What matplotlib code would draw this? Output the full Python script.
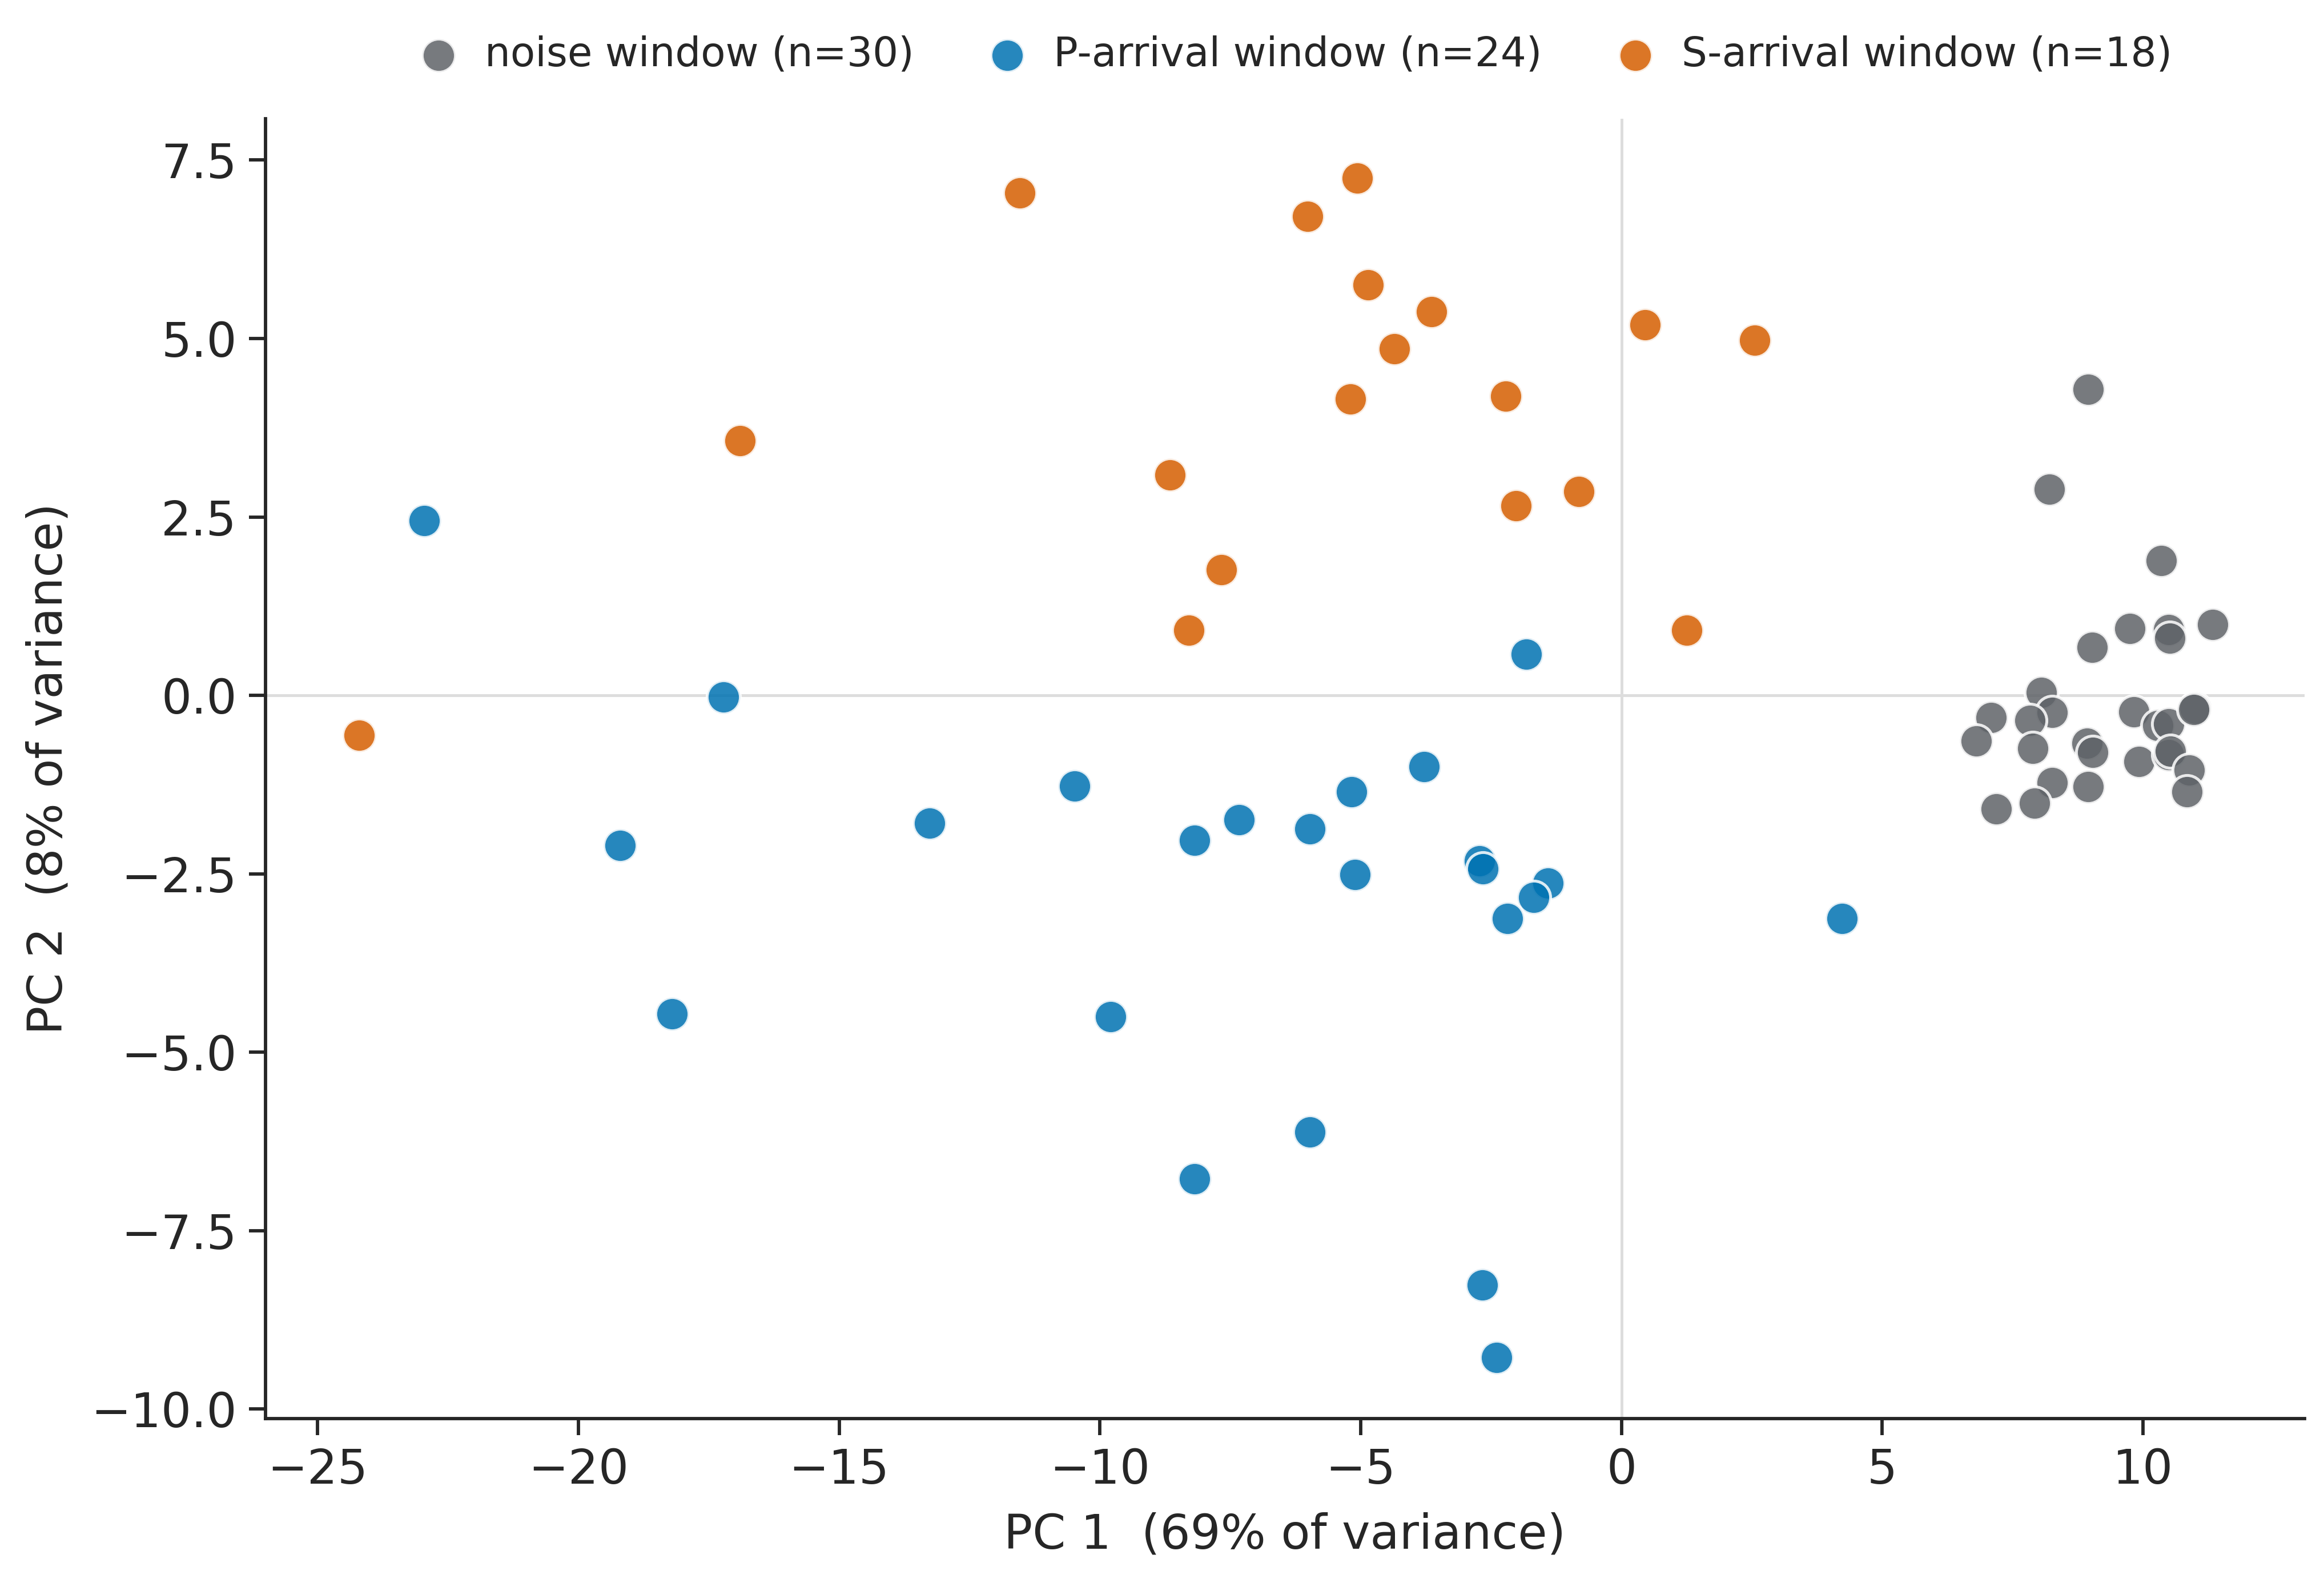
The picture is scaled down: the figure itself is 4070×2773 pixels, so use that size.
import numpy as np
import matplotlib
matplotlib.use("Agg")
import matplotlib.pyplot as plt
import seaborn as sns

# ---------- data (PC scores) ----------
noise_pc1 = [8.95, 8.20, 10.35, 9.75, 10.49, 10.51, 11.33, 9.02, 8.05, 7.09,
             6.80, 8.26, 7.83, 7.89, 8.93, 9.04, 8.26, 8.95, 7.92, 7.19,
             9.82, 10.28, 10.49, 11.00, 9.92, 10.49, 10.53, 10.89, 10.84, 10.97]
noise_pc2 = [4.29, 2.89, 1.89, 0.94, 0.92, 0.80, 0.99, 0.67, 0.04, -0.31,
             -0.64, -0.24, -0.35, -0.74, -0.67, -0.80, -1.22, -1.28, -1.51, -1.59,
             -0.23, -0.42, -0.40, -0.18, -0.93, -0.83, -0.78, -1.05, -1.35, -0.20]

p_pc1 = [-22.95, -17.22, -19.20, -18.20, -13.27, -10.48, -9.80, -8.18, -7.33, -8.18,
         -5.97, -5.97, -5.17, -5.11, -3.78, -1.82, -2.72, -2.66, -1.41, -1.68,
         -2.19, 4.23, -2.67, -2.39]
p_pc2 = [2.45, -0.02, -2.10, -4.46, -1.79, -1.27, -4.50, -2.03, -1.74, -6.77,
         -1.87, -6.12, -1.35, -2.51, -1.00, 0.58, -2.32, -2.43, -2.63, -2.83,
         -3.13, -3.13, -8.26, -9.28]

s_pc1 = [-24.20, -16.90, -11.53, -8.66, -7.67, -8.30, -6.02, -5.06, -4.86, -4.35,
         -3.64, -5.20, -2.22, -2.02, -0.82, 0.45, 2.56, 1.25]
s_pc2 = [-0.56, 3.57, 7.04, 3.09, 1.76, 0.91, 6.71, 7.25, 5.75, 4.86,
         5.38, 4.15, 4.19, 2.66, 2.86, 5.19, 4.98, 0.91]

groups = [("noise window", noise_pc1, noise_pc2, "#5f6368"),
          ("P-arrival window", p_pc1, p_pc2, "#0072b2"),
          ("S-arrival window", s_pc1, s_pc2, "#d55e00")]
var_pc1, var_pc2 = 69, 8

# ---------- plot ----------
sns.set_style("ticks")
plt.rcParams["font.family"] = ["DejaVu Sans"]

fig = plt.figure(figsize=(4070 / 300, 2773 / 300), dpi=300)
ax = fig.add_axes([0.1142, 0.104, 0.8775, 0.821])

ax.axhline(0, color="#dddddd", lw=1.2, zorder=0)
ax.axvline(0, color="#dddddd", lw=1.2, zorder=0)

for name, x, y, col in groups:
    ax.scatter(x, y, s=195, color=col, alpha=0.85, edgecolor="white",
               linewidth=1.2, label=f"{name} (n={len(x)})", zorder=3)

ax.set_xlim(-26, 13.1)
ax.set_ylim(-10.13, 8.08)
ax.set_xticks(np.arange(-25, 11, 5))
ax.set_yticks(np.arange(-10, 7.6, 2.5))
ax.tick_params(labelsize=20, length=7, width=1.4, colors="#262626", pad=5)
for sp in ("left", "bottom"):
    ax.spines[sp].set_linewidth(1.4)
    ax.spines[sp].set_color("#262626")
sns.despine(ax=ax)

ax.set_xlabel(f"PC 1  ({var_pc1}% of variance)", fontsize=20, color="#262626", labelpad=8)
ax.set_ylabel(f"PC 2  ({var_pc2}% of variance)", fontsize=20, color="#262626", labelpad=8)

ax.legend(loc="center", bbox_to_anchor=(0.5, 1.049), ncol=3, frameon=False,
          fontsize=17, handletextpad=0.15, columnspacing=1.3, markerscale=1.0)

fig.savefig("out.png", dpi=300)
